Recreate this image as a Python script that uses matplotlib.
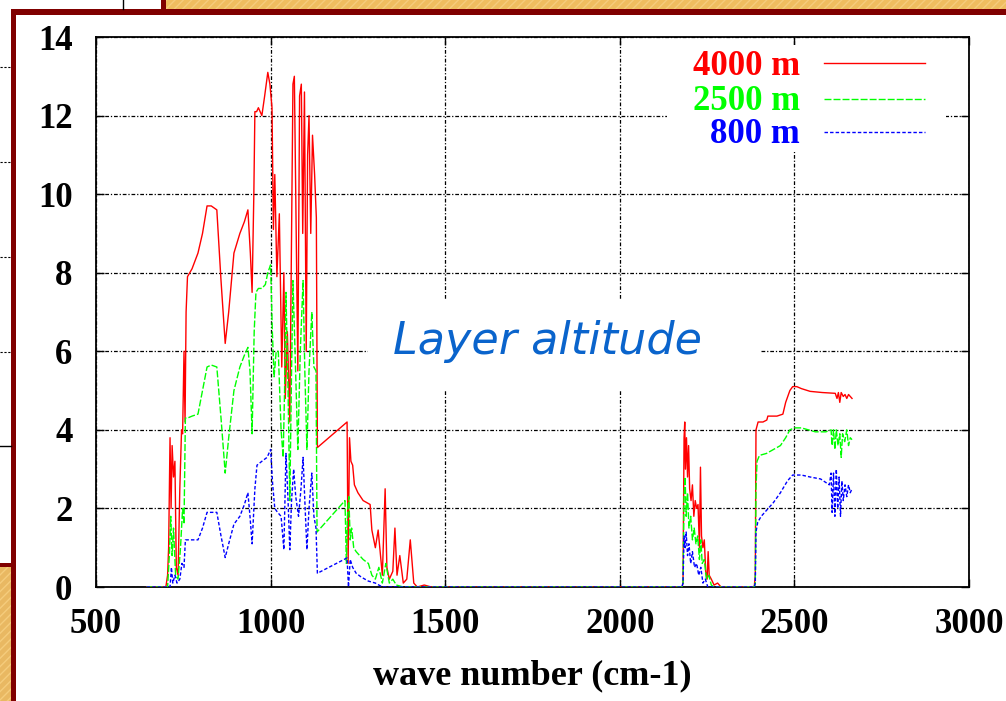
import matplotlib
matplotlib.use("Agg")
import matplotlib.pyplot as plt
from matplotlib.patches import Rectangle

W, H = 1006, 701

# 4000 m layer
red_x = [645, 700, 705, 708, 712, 715, 718, 722, 726, 730, 735, 740, 745, 748, 752, 755, 758, 762,
         775, 792, 805, 818, 830, 846, 858, 870, 880, 895, 912, 925, 935, 942, 947, 952, 955, 960,
         965, 975, 983, 992, 998, 1004, 1008, 1012, 1018, 1025, 1032, 1038, 1042, 1048, 1055, 1060,
         1064, 1068, 1072, 1078, 1083, 1088, 1092, 1097, 1102, 1106, 1110, 1115, 1120, 1126, 1131,
         1134, 1219, 1222, 1226, 1230, 1235, 1240, 1250, 1265, 1285, 1290, 1300, 1308, 1320, 1328,
         1333, 1340, 1350, 1356, 1362, 1370, 1380, 1390, 1400, 1410, 1420, 1440, 1460,
         2178, 2181, 2184, 2186, 2188, 2191, 2194, 2197, 2200, 2204, 2208, 2212, 2216, 2220, 2224,
         2228, 2231, 2234, 2238, 2242, 2246, 2250, 2253, 2256, 2262, 2270, 2280, 2290,
         2385, 2388, 2390, 2396, 2410, 2421, 2424, 2450, 2467, 2475, 2487, 2495, 2507, 2520, 2545,
         2580, 2617, 2622, 2626, 2630, 2634, 2640, 2645, 2650, 2655, 2660, 2665]
red_y = [0, 0, 0.3, 1.0, 3.8, 2.0, 3.6, 2.8, 3.2, 0.5, 0.3, 2.5, 4.0, 3.9, 6.0, 4.2, 7.0, 7.9,
         8.1, 8.5, 9.0, 9.7, 9.7, 9.6, 7.8, 6.2, 7.0, 8.5, 9.0, 9.3, 9.6, 8.5, 7.5, 10.0, 12.1, 12.1,
         12.2, 12.0, 12.5, 13.1, 12.8, 12.2, 9.1, 10.5, 7.9, 9.5, 5.6, 8.0, 4.8, 6.5, 4.2, 9.0,
         12.8, 13.0, 10.0, 5.5, 12.5, 12.8, 9.0, 12.6, 6.0, 11.0, 12.0, 9.0, 11.5, 10.5, 9.4,
         3.55, 4.2, 0.6, 3.8, 3.2, 3.1, 2.6, 2.4, 2.2, 2.1, 1.45, 1.0, 1.45, 0.3, 2.5,
         0.5, 0.2, 0.4, 1.5, 0.3, 0.8, 0.1, 0.2, 1.2, 0.1, 0.0, 0.05, 0,
         0, 0.1, 3.8, 4.2, 3.0, 3.8, 2.8, 3.6, 2.5, 2.2, 2.6, 1.8, 2.2, 2.0, 2.1,
         1.0, 3.05, 1.3, 1.0, 1.2, 0.4, 0.2, 0.9, 0.3, 0.2, 0.05, 0.1, 0,
         0, 0.3, 4.0, 4.2, 4.2, 4.25, 4.35, 4.35, 4.4, 4.7, 5.0, 5.1, 5.1, 5.05, 4.98,
         4.95, 4.93, 4.8, 4.95, 4.7, 4.95, 4.85, 4.9, 4.8, 4.9, 4.85, 4.8]

# 2500 m layer
green_x = [645, 705, 710, 714, 718, 722, 728, 735, 742, 748, 752, 756, 762, 775, 792, 805, 818, 830,
           846, 858, 870, 880, 895, 912, 925, 935, 941, 947, 953, 958, 965, 975, 985, 992, 1000,
           1005, 1010, 1016, 1022, 1030, 1036, 1040, 1044, 1050, 1055, 1060, 1064, 1070, 1078, 1085,
           1093, 1098, 1104, 1110, 1118, 1124, 1130, 1133, 1213, 1217, 1220, 1224, 1228, 1232, 1238,
           1245, 1255, 1265, 1280, 1290, 1300, 1310, 1320, 1330, 1340, 1350, 1360, 1380,
           2178, 2181, 2184, 2187, 2190, 2194, 2198, 2203, 2208, 2213, 2218, 2223, 2228, 2232, 2236,
           2242, 2248, 2255, 2262, 2270,
           2385, 2388, 2390, 2393, 2400, 2420, 2440, 2460, 2475, 2487, 2500, 2520, 2540, 2560, 2590,
           2605, 2608, 2612, 2616, 2620, 2625, 2630, 2634, 2638, 2644, 2650, 2655, 2660, 2665]
green_y = [0, 0, 0.8, 1.8, 0.8, 1.5, 0.3, 0.2, 1.0, 2.0, 1.6, 4.3, 4.3, 4.35, 4.4, 5.0, 5.6, 5.65,
           5.6, 4.3, 2.9, 3.8, 5.0, 5.6, 5.9, 6.1, 5.5, 3.9, 6.5, 7.5, 7.6, 7.6, 7.7, 8.0, 8.2,
           6.5, 5.35, 6.0, 6.0, 4.0, 3.3, 5.0, 7.5, 5.0, 2.2, 5.5, 7.8, 6.0, 3.5, 6.0,
           7.8, 5.5, 3.5, 5.5, 7.0, 5.6, 5.5, 1.4, 2.2, 0.6, 1.8, 2.3, 1.2, 1.5, 1.0,
           0.9, 0.8, 0.7, 0.6, 0.3, 0.2, 0.5, 0.1, 0.6, 0.1, 0.2, 0.05, 0,
           0, 0.1, 2.3, 2.8, 1.8, 2.4, 1.5, 1.8, 1.2, 1.5, 1.1, 1.3, 0.7, 1.2, 0.6,
           0.7, 0.2, 0.3, 0.05, 0,
           0, 0.1, 2.5, 3.2, 3.35, 3.4, 3.5, 3.6, 3.8, 4.0, 4.05, 4.05, 4.0, 3.95, 3.95,
           4.0, 3.6, 4.0, 3.5, 4.0, 3.6, 3.9, 3.3, 3.9, 3.7, 4.0, 3.6, 3.8, 3.75]

# 800 m layer
blue_x = [645, 712, 716, 720, 726, 732, 740, 746, 752, 756, 770, 792, 805, 818, 830, 846, 858, 870,
          880, 895, 912, 925, 935, 941, 947, 955, 961, 975, 990, 1000, 1006, 1012, 1020, 1030,
          1038, 1044, 1050, 1055, 1060, 1066, 1072, 1080, 1087, 1093, 1098, 1104, 1110, 1118,
          1124, 1130, 1134, 1219, 1223, 1228, 1235, 1245, 1260, 1280, 1300, 1320,
          2178, 2181, 2184, 2187, 2190, 2194, 2198, 2203, 2208, 2214, 2220, 2226, 2232, 2238,
          2245, 2252,
          2385, 2388, 2390, 2395, 2405, 2420, 2440, 2460, 2480, 2495, 2520, 2545, 2575, 2600,
          2605, 2608, 2612, 2616, 2620, 2624, 2628, 2632, 2636, 2640, 2645, 2650, 2655, 2660, 2665]
blue_y = [0, 0, 0.5, 0.1, 0.3, 0.1, 0.2, 0.6, 0.5, 1.2, 1.2, 1.2, 1.5, 1.9, 1.9, 1.9, 1.3, 0.75,
          1.1, 1.6, 1.8, 2.1, 2.4, 1.8, 1.1, 2.5, 3.1, 3.2, 3.3, 3.5, 2.6, 2.0, 1.9, 1.8,
          0.95, 3.4, 2.2, 0.95, 2.2, 3.0, 2.3, 1.8, 2.5, 3.3, 2.2, 0.95, 2.0, 2.9,
          1.8, 1.5, 0.35, 0.74, 0.0, 0.7, 0.5, 0.35, 0.25, 0.15, 0.1, 0.0,
          0, 0.1, 1.3, 1.0, 1.4, 0.8, 1.1, 0.6, 0.9, 0.5, 0.6, 0.3, 0.5, 0.1,
          0.2, 0,
          0, 0.1, 1.4, 1.65, 1.8, 1.95, 2.15, 2.4, 2.7, 2.85, 2.85, 2.8, 2.75, 2.6,
          2.9, 1.9, 2.9, 1.8, 3.0, 2.0, 2.8, 1.8, 2.7, 2.2, 2.6, 2.3, 2.6, 2.4, 2.5]

labels = ["4000 m", "2500 m", "800 m"]
colors = ["#ff0000", "#00ff00", "#0000ff"]
styles = ["-", (0, (5, 1.5)), (0, (2.5, 1.5))]

x_ticks = [500, 1000, 1500, 2000, 2500, 3000]
y_ticks = [0, 2, 4, 6, 8, 10, 12, 14]

FONT = "Liberation Serif"


def px_rect(fig, x, y, w, h, color, hatch=None, z=0):
    r = Rectangle((x / W, 1 - (y + h) / H), w / W, h / H, transform=fig.transFigure,
                  facecolor=color, edgecolor="#f5cc7c" if hatch else "none", hatch=hatch,
                  linewidth=0, zorder=z)
    fig.add_artist(r)


def px_line(fig, xs, ys, **kw):
    fig.add_artist(plt.Line2D([x / W for x in xs], [1 - y / H for y in ys],
                              transform=fig.transFigure, **kw))


def slide_background(fig):
    orange = "#efbd5f"
    dark_red = "#800000"
    # orange bands
    px_rect(fig, 166, 0, 840, 9, orange, hatch="////")
    px_rect(fig, 0, 567, 11, 134, "#e9b862", hatch="////")
    # dark red borders
    px_rect(fig, 11, 9, 995, 6, dark_red)
    px_rect(fig, 11, 9, 5, 692, dark_red)
    px_rect(fig, 161, 0, 5, 9, dark_red)
    px_rect(fig, 0, 563, 11, 4, dark_red)
    px_line(fig, [123, 123], [0, 9], color="black", lw=1)
    # fragments of a neighbouring chart at the left edge
    for yy in [67, 162, 257, 352]:
        px_line(fig, [0, 11], [yy, yy], color="black", lw=0.8, ls=(0, (2, 1.5)))
    px_line(fig, [0, 11], [446, 446], color="black", lw=1)


def draw_legend(ax):
    # white box hiding the grid behind the key
    ax.add_patch(Rectangle((0.654, 0.791), 0.32, 0.194, transform=ax.transAxes,
                           facecolor="white", edgecolor="none", zorder=1))
    text_y = [0.9309, 0.8673, 0.8073]
    line_y = [0.9527, 0.8873, 0.8273]
    for lab, col, ls, ty, ly in zip(labels, colors, styles, text_y, line_y):
        ax.text(0.8064, ty, lab, transform=ax.transAxes, ha="right", va="baseline",
                color=col, fontsize=25, fontweight="bold", fontfamily=FONT, zorder=4)
        ax.plot([0.8339, 0.9496], [ly, ly], transform=ax.transAxes, color=col, lw=1.0,
                ls=ls, zorder=4)


def draw_chart(fig):
    ax = fig.add_axes([96 / W, 1 - 587 / H, 873 / W, 550 / H])
    ax.set_axisbelow(True)
    series = [(red_x, red_y), (green_x, green_y), (blue_x, blue_y)]
    for (xs, ys), lab, col, ls in zip(series, labels, colors, styles):
        ax.plot(xs, ys, color=col, lw=1.0, ls=ls, label=lab, zorder=3)

    ax.set_xlim(500, 3000)
    ax.set_ylim(0, 14)
    ax.set_xticks(x_ticks)
    ax.set_yticks(y_ticks)
    ax.grid(True, color="black", lw=0.9, ls=(0, (3, 1.5, 1, 1.5)))
    ax.tick_params(direction="in", length=6, width=1, top=True, right=True,
                   labelsize=25, colors="black")
    ax.tick_params(axis="y", pad=17)
    ax.tick_params(axis="x", pad=15)
    for lbl in ax.get_xticklabels() + ax.get_yticklabels():
        lbl.set_fontfamily(FONT)
        lbl.set_fontweight("bold")
    for sp in ax.spines.values():
        sp.set_linewidth(1.3)

    ax.set_xlabel("wave number (cm-1)", fontsize=26, fontweight="bold",
                  fontfamily=FONT, labelpad=13)

    # white patch behind the title text, hiding the grid
    ax.add_patch(Rectangle((1279, 5.0), 1122, 2.3, facecolor="white", edgecolor="none",
                           zorder=1))
    ax.text(1794, 6.25, "Layer altitude", color="#0a64cc", fontsize=32, style="italic",
            fontfamily="DejaVu Sans", ha="center", va="center", zorder=4)

    draw_legend(ax)
    return ax


def main():
    fig = plt.figure(figsize=(W / 100, H / 100), dpi=100)
    fig.patch.set_facecolor("white")
    slide_background(fig)
    draw_chart(fig)
    fig.savefig("out.png", dpi=100)


if __name__ == "__main__":
    main()
